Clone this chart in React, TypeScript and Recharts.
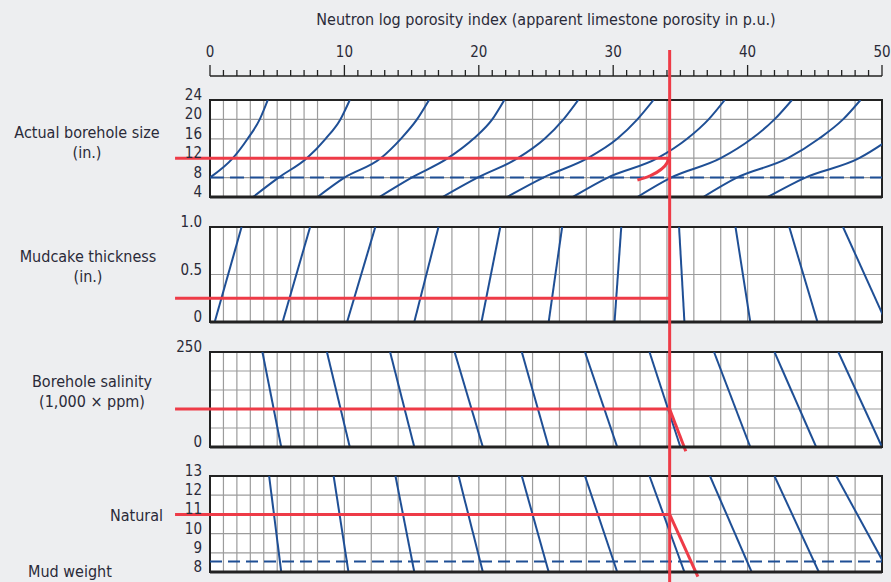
import React from "react";
import {
  ComposedChart,
  Line,
  XAxis,
  YAxis,
  CartesianGrid,
  ReferenceLine,
  ReferenceArea,
} from "recharts";

// porosity scale (p.u.)
const porosityTicks = Array.from({ length: 51 }, (_, i) => i);

// actual borehole size panel: apparent porosity read at each hole size
const boreholeSizes = [4, 8, 12, 16, 20, 24];
const boreholeCurves = [
  [null, 0, 1.7, 2.8, 3.7, 4.3],
  [3.2, 5.1, 7.2, 8.6, 9.7, 10.4],
  [8.0, 10.0, 12.7, 14.2, 15.4, 16.3],
  [12.6, 15.0, 17.7, 19.6, 21.0, 21.9],
  [17.3, 19.9, 22.9, 24.9, 26.3, 27.4],
  [22.1, 24.8, 28.1, 30.3, 31.8, 33.0],
  [27.0, 29.6, 33.3, 35.5, 37.1, 38.3],
  [31.8, 34.3, 38.0, 40.3, 42.0, 43.3],
  [36.7, 39.2, 43.0, 45.3, 47.1, 48.4],
  [41.5, 44.3, 48.3, 50.6, 52.5, 53.8],
];

// mudcake thickness panel (in.)
const mudcakeThickness = [0, 1.0];
const mudcakeLines = [
  [0.35, 2.35],
  [5.4, 7.45],
  [10.2, 12.3],
  [15.2, 17.0],
  [20.2, 21.6],
  [25.2, 26.2],
  [30.1, 30.6],
  [35.3, 34.9],
  [40.2, 39.1],
  [45.2, 43.1],
  [50.3, 47.1],
];

// borehole salinity panel (1,000 x ppm)
const salinityLevels = [0, 250];
const salinityLines = [
  [5.3, 3.9],
  [10.4, 8.7],
  [15.2, 13.4],
  [20.3, 18.2],
  [25.2, 23.2],
  [30.3, 27.9],
  [35.0, 32.7],
  [40.2, 37.5],
  [45.1, 42.0],
  [50.0, 46.75],
];

// mud weight panel (lbm/gal)
const mudWeights = [8, 13];
const mudWeightLines = [
  [5.3, 4.4],
  [10.3, 9.2],
  [15.2, 13.8],
  [20.3, 18.5],
  [25.2, 23.2],
  [30.3, 27.9],
  [35.3, 32.7],
  [40.3, 37.2],
  [45.3, 42.0],
  [50.5, 46.6],
];

// worked example (red)
const exampleReading = 34.2;
const exampleStart = -2.6;
const exampleSize = 12;
const exampleMudcake = 0.25;
const exampleSalinity = 100;
const exampleMudWeight = 11;
const sizeCorrection = [
  { p: 31.8, v: 7.5 },
  { p: 32.7, v: 8.33 },
  { p: 33.5, v: 9.57 },
  { p: 34.0, v: 11.0 },
  { p: 34.2, v: 12.25 },
];
const salinityCorrectionEnd = { p: 35.4, v: -11 };
const mudWeightCorrectionEnd = { p: 36.3, v: 7.76 };
const referenceSize = 8;
const naturalMudWeight = 8.55;

const FONT = "'DejaVu Sans Condensed', 'Liberation Sans Narrow', 'Arial Narrow', sans-serif";
const INK = "#2a2a38";
const BLUE = "#1f4f95";
const RED = "#ee3b47";
const GRID = "#9c9c9c";

const toPoints = (values: (number | null)[], levels: number[]) =>
  levels
    .map((v, i) => ({ p: values[i], v }))
    .filter((d) => d.p !== null);

const PLOT_LEFT = 210;
const PLOT_RIGHT = 9;
const Y_WIDTH = 40;
const PAD_TOP = 16;
const PAD_BOTTOM = 10;

function PorosityTick(props: any) {
  const { x, y, payload } = props;
  const major = payload.value % 10 === 0;
  return (
    <g>
      <line x1={x} x2={x} y1={y} y2={y - (major ? 11 : 6)} stroke="#222" strokeWidth={1.3} />
      {major && (
        <text x={x} y={y - 24} textAnchor="middle" dominantBaseline="central" fontFamily={FONT} fontSize={15} fill={INK}>
          {payload.value}
        </text>
      )}
    </g>
  );
}

function makeSideTick(format: (v: number) => string) {
  return (props: any) => {
    const { x, y, payload } = props;
    return (
      <text x={x} y={y - 5} textAnchor="end" dominantBaseline="central" fontFamily={FONT} fontSize={15} fill={INK}>
        {format(payload.value)}
      </text>
    );
  };
}

type PanelProps = {
  top: number;
  height: number;
  domain: [number, number];
  ticks: number[];
  format: (v: number) => string;
  series: { p: number | null; v: number }[][];
  curved?: boolean;
  children?: React.ReactNode;
};

function Panel({ top, height, domain, ticks, format, series, curved, children }: PanelProps) {
  return (
    <div style={{ position: "absolute", left: 0, top: top - PAD_TOP }}>
      <ComposedChart
        width={891}
        height={height + PAD_TOP + PAD_BOTTOM}
        margin={{ top: PAD_TOP, right: PLOT_RIGHT, bottom: PAD_BOTTOM, left: PLOT_LEFT - Y_WIDTH }}
      >
        <CartesianGrid stroke={GRID} strokeWidth={1.2} fill="#ffffff" />
        <XAxis hide type="number" dataKey="p" domain={[0, 50]} ticks={porosityTicks} allowDataOverflow />
        <YAxis
          type="number"
          dataKey="v"
          domain={domain}
          ticks={ticks}
          allowDataOverflow
          width={Y_WIDTH}
          axisLine={false}
          tickLine={false}
          interval={0}
          tick={makeSideTick(format)}
        />
        {series.map((pts, i) => (
          <Line
            key={i}
            data={pts}
            dataKey="v"
            type={curved ? "monotone" : "linear"}
            stroke={BLUE}
            strokeWidth={2}
            dot={false}
            activeDot={false}
            isAnimationActive={false}
          />
        ))}
        {children}
        <ReferenceArea
          x1={0}
          x2={50}
          y1={domain[0]}
          y2={domain[1]}
          fill="none"
          stroke="#222"
          strokeWidth={2}
          ifOverflow="visible"
        />
        <ReferenceLine y={domain[0]} stroke="#222" strokeWidth={3} ifOverflow="visible" />
      </ComposedChart>
    </div>
  );
}

function SideLabel({ cx, cy, lines }: { cx: number; cy: number; lines: string[] }) {
  return (
    <div
      style={{
        position: "absolute",
        left: cx - 100,
        top: cy - 10,
        width: 200,
        textAlign: "center",
        lineHeight: "20px",
        fontFamily: FONT,
        fontSize: 16,
        color: INK,
        whiteSpace: "nowrap",
      }}
    >
      {lines.map((l) => (
        <div key={l}>{l}</div>
      ))}
    </div>
  );
}

function redHorizontal(v: number) {
  return (
    <ReferenceLine
      segment={[
        { x: exampleStart, y: v },
        { x: exampleReading, y: v },
      ]}
      stroke={RED}
      strokeWidth={3}
      ifOverflow="visible"
    />
  );
}

export default function App() {
  const boreholeSeries = boreholeCurves.map((c) => toPoints(c, boreholeSizes));
  const mudcakeSeries = mudcakeLines.map((c) => toPoints(c, mudcakeThickness));
  const salinitySeries = salinityLines.map((c) => toPoints(c, salinityLevels));
  const mudWeightSeries = mudWeightLines.map((c) => toPoints(c, mudWeights));
  const scaleData = porosityTicks.map((p) => ({ p }));
  const verticalRed = [
    { p: exampleReading, v: 0 },
    { p: exampleReading, v: 1 },
  ];

  return (
    <div
      style={{
        position: "absolute",
        left: 0,
        top: 0,
        width: 891,
        height: 582,
        overflow: "hidden",
        background: "#edeef0",
      }}
    >
      <div
        style={{
          position: "absolute",
          left: 246,
          top: 10,
          width: 600,
          textAlign: "center",
          fontFamily: FONT,
          fontSize: 16,
          color: INK,
        }}
      >
        Neutron log porosity index (apparent limestone porosity in p.u.)
      </div>

      {/* top porosity scale */}
      <div style={{ position: "absolute", left: 0, top: 0 }}>
        <ComposedChart
          width={891}
          height={90}
          data={scaleData}
          margin={{ top: 36, right: PLOT_RIGHT, bottom: 10, left: PLOT_LEFT }}
        >
          <XAxis
            orientation="top"
            type="number"
            dataKey="p"
            domain={[0, 50]}
            ticks={porosityTicks}
            interval={0}
            height={40}
            tickSize={0}
            tickMargin={0}
            allowDataOverflow
            axisLine={{ stroke: "#222", strokeWidth: 1.5 }}
            tick={(props: any) => <PorosityTick {...props} />}
          />
          <YAxis hide type="number" domain={[0, 1]} />
          <Line
            dataKey="p"
            stroke="none"
            dot={false}
            activeDot={false}
            legendType="none"
            isAnimationActive={false}
          />
        </ComposedChart>
      </div>

      <Panel
        top={100}
        height={97}
        domain={[4, 24]}
        ticks={boreholeSizes}
        format={(v) => String(v)}
        series={boreholeSeries}
        curved
      >
        <ReferenceLine y={referenceSize} stroke={BLUE} strokeWidth={2} strokeDasharray="14 6" />
        {redHorizontal(exampleSize)}
        <Line
          data={sizeCorrection}
          dataKey="v"
          type="monotone"
          stroke={RED}
          strokeWidth={3}
          dot={false}
          activeDot={false}
          isAnimationActive={false}
        />
      </Panel>

      <Panel
        top={227}
        height={95}
        domain={[0, 1]}
        ticks={[0, 0.5, 1]}
        format={(v) => (v === 0 ? "0" : v.toFixed(1))}
        series={mudcakeSeries}
      >
        {redHorizontal(exampleMudcake)}
      </Panel>

      <Panel
        top={352}
        height={95}
        domain={[0, 250]}
        ticks={[0, 50, 100, 150, 200, 250]}
        format={(v) => (v === 0 || v === 250 ? String(v) : "")}
        series={salinitySeries}
      >
        {redHorizontal(exampleSalinity)}
        <ReferenceLine
          segment={[
            { x: exampleReading, y: exampleSalinity },
            { x: salinityCorrectionEnd.p, y: salinityCorrectionEnd.v },
          ]}
          stroke={RED}
          strokeWidth={3}
          ifOverflow="visible"
        />
      </Panel>

      <Panel
        top={476}
        height={96}
        domain={[8, 13]}
        ticks={[8, 9, 10, 11, 12, 13]}
        format={(v) => String(v)}
        series={mudWeightSeries}
      >
        <ReferenceLine y={naturalMudWeight} stroke={BLUE} strokeWidth={2} strokeDasharray="12 6" />
        {redHorizontal(exampleMudWeight)}
        <ReferenceLine
          segment={[
            { x: exampleReading, y: exampleMudWeight },
            { x: mudWeightCorrectionEnd.p, y: mudWeightCorrectionEnd.v },
          ]}
          stroke={RED}
          strokeWidth={3}
          ifOverflow="visible"
        />
      </Panel>

      <SideLabel cx={87} cy={133} lines={["Actual borehole size", "(in.)"]} />
      <SideLabel cx={88} cy={257} lines={["Mudcake thickness", "(in.)"]} />
      <SideLabel cx={92} cy={382} lines={["Borehole salinity", "(1,000 × ppm)"]} />
      <div
        style={{
          position: "absolute",
          right: 891 - 163,
          top: 506,
          lineHeight: "20px",
          fontFamily: FONT,
          fontSize: 16,
          color: INK,
        }}
      >
        Natural
      </div>
      <div
        style={{
          position: "absolute",
          left: 28,
          top: 563,
          lineHeight: "18px",
          fontFamily: FONT,
          fontSize: 16,
          color: INK,
        }}
      >
        Mud weight
      </div>

      {/* example porosity reading carried down through all panels */}
      <div style={{ position: "absolute", left: 0, top: 0, pointerEvents: "none" }}>
        <ComposedChart width={891} height={582} margin={{ top: 50, right: PLOT_RIGHT, bottom: 0, left: PLOT_LEFT }}>
          <XAxis hide type="number" dataKey="p" domain={[0, 50]} allowDataOverflow />
          <YAxis hide type="number" dataKey="v" domain={[0, 1]} />
          <Line
            data={verticalRed}
            dataKey="v"
            type="linear"
            stroke={RED}
            strokeWidth={3}
            dot={false}
            activeDot={false}
            isAnimationActive={false}
          />
        </ComposedChart>
      </div>
    </div>
  );
}
